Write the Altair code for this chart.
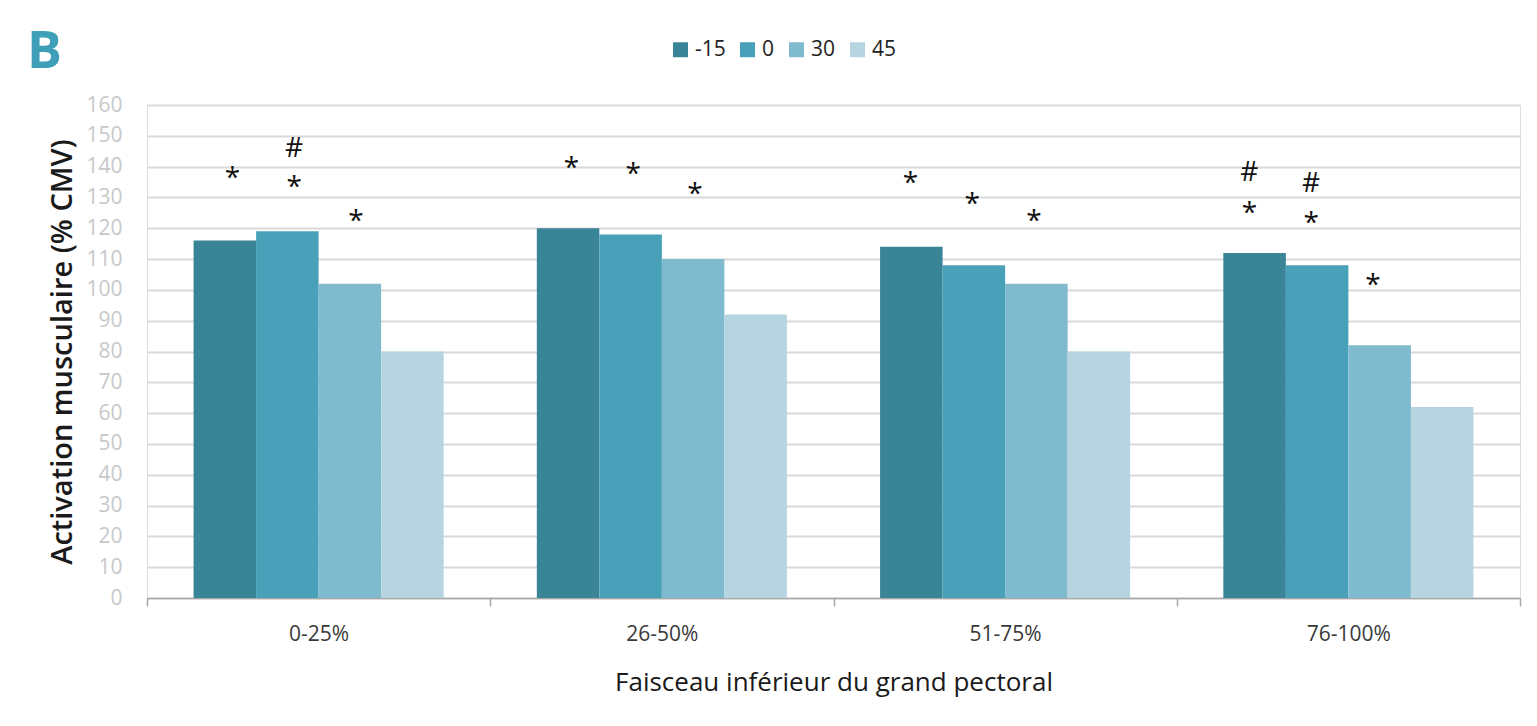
import altair as alt
import pandas as pd

groups = ["0-25%", "26-50%", "51-75%", "76-100%"]
series = ["-15", "0", "30", "45"]
values_m15 = [116, 120, 114, 112]
values_0 = [119, 118, 108, 108]
values_30 = [102, 110, 102, 82]
values_45 = [80, 92, 80, 62]
colors = ["#3a8497", "#48a1b9", "#7fbace", "#b6d5e0"]

star_groups = ["0-25%", "0-25%", "0-25%", "26-50%", "26-50%", "26-50%",
               "51-75%", "51-75%", "51-75%", "76-100%", "76-100%", "76-100%"]
star_series = ["-15", "0", "30"] * 4
star_pos = [137.3, 134.3, 123.2, 140.5, 138.7, 132.1, 135.7, 128.9, 123.2, 125.9, 122.7, 102.7]
hash_groups = ["0-25%", "76-100%", "76-100%"]
hash_series = ["0", "-15", "0"]
hash_pos = [146.0, 138.4, 134.6]

y_ticks = list(range(0, 161, 10))

rows = []
for s, vals in zip(series, [values_m15, values_0, values_30, values_45]):
    for g, v in zip(groups, vals):
        rows.append({"group": g, "series": s, "value": v})
bars_df = pd.DataFrame(rows)
stars_df = pd.DataFrame({"group": star_groups, "series": star_series, "pos": star_pos, "sym": "*"})
hash_df = pd.DataFrame({"group": hash_groups, "series": hash_series, "pos": hash_pos, "sym": "#"})

FONT = "Open Sans"

x_enc = alt.X(
    "group:N", sort=groups,
    scale=alt.Scale(paddingInner=0, paddingOuter=0),
    axis=alt.Axis(
        title="Faisceau inférieur du grand pectoral",
        tickBand="extent", grid=False,
        labelAngle=0, labelFontSize=21, labelColor="#3a3a3a", labelFont=FONT,
        labelPadding=17, tickSize=8, tickColor="#a6a6a6", tickWidth=1.5,
        domainColor="#a6a6a6", domainWidth=1.5,
        titleFontSize=26, titleFont=FONT, titleFontWeight=500, titleColor="#1a1a1a",
        titlePadding=25,
    ),
)
xo_enc = alt.XOffset("series:N", sort=series,
                     scale=alt.Scale(domain=series, paddingInner=0, paddingOuter=0.745))

y_axis = alt.Axis(
    title="Activation musculaire (% CMV)", values=y_ticks,
    labelOverlap=False,
    domain=False, ticks=False, tickSize=0, labelPadding=25,
    gridColor="#d9d9d9", gridWidth=2,
    labelFontSize=21, labelColor="#c8c8c8", labelFont=FONT,
    titleFontSize=29, titleFont=FONT, titleFontWeight=600, titleColor="#1a1a1a",
    titlePadding=8,
)
y_scale = alt.Scale(domain=[0, 160], nice=False)

bars = alt.Chart(bars_df).mark_bar(strokeWidth=0).encode(
    x=x_enc,
    xOffset=xo_enc,
    y=alt.Y("value:Q", scale=y_scale, axis=y_axis),
    color=alt.Color(
        "series:N", sort=series,
        scale=alt.Scale(domain=series, range=colors),
        legend=alt.Legend(
            title=None, orient="none", direction="horizontal", legendX=523, legendY=-66,
            symbolType="square", symbolSize=225, symbolStrokeWidth=0,
            labelFontSize=21, labelFont=FONT, labelColor="#222222", labelOffset=4,
            columnPadding=11, padding=0,
        ),
    ),
)

ann_x = alt.X("group:N", sort=groups,
              scale=alt.Scale(domain=groups, paddingInner=0.182, paddingOuter=0.116), axis=None)
ann_xo = alt.XOffset("series:N", sort=series,
                     scale=alt.Scale(type="point", domain=series, padding=0.745))

stars = alt.Chart(stars_df).mark_text(
    fontSize=28, font=FONT, color="#111111", baseline="alphabetic", dy=12
).encode(
    x=ann_x,
    xOffset=ann_xo,
    y=alt.Y("pos:Q", scale=y_scale, axis=y_axis),
    text="sym:N",
)

hashes = alt.Chart(hash_df).mark_text(
    fontSize=28, font=FONT, color="#111111", baseline="alphabetic", dy=9
).encode(
    x=ann_x,
    xOffset=ann_xo,
    y=alt.Y("pos:Q", scale=y_scale, axis=y_axis),
    text="sym:N",
)

annotations = alt.layer(stars, hashes)

chart = alt.layer(bars, annotations).resolve_scale(x="independent", xOffset="independent").properties(
    width=1373, height=493,
    title=alt.TitleParams(
        text="B", anchor="start", frame="group", fontSize=52, fontWeight="bold",
        font=FONT, color="#3f9fb8", dx=-120, offset=0, dy=40,
    ),
    autosize=alt.AutoSizeParams(type="none"),
    padding={"left": 139, "top": 97, "right": 5, "bottom": 110},
).configure_view(stroke=None).configure(background="white")

chart.save("out.html", embed_options={"renderer": "svg", "actions": False})
